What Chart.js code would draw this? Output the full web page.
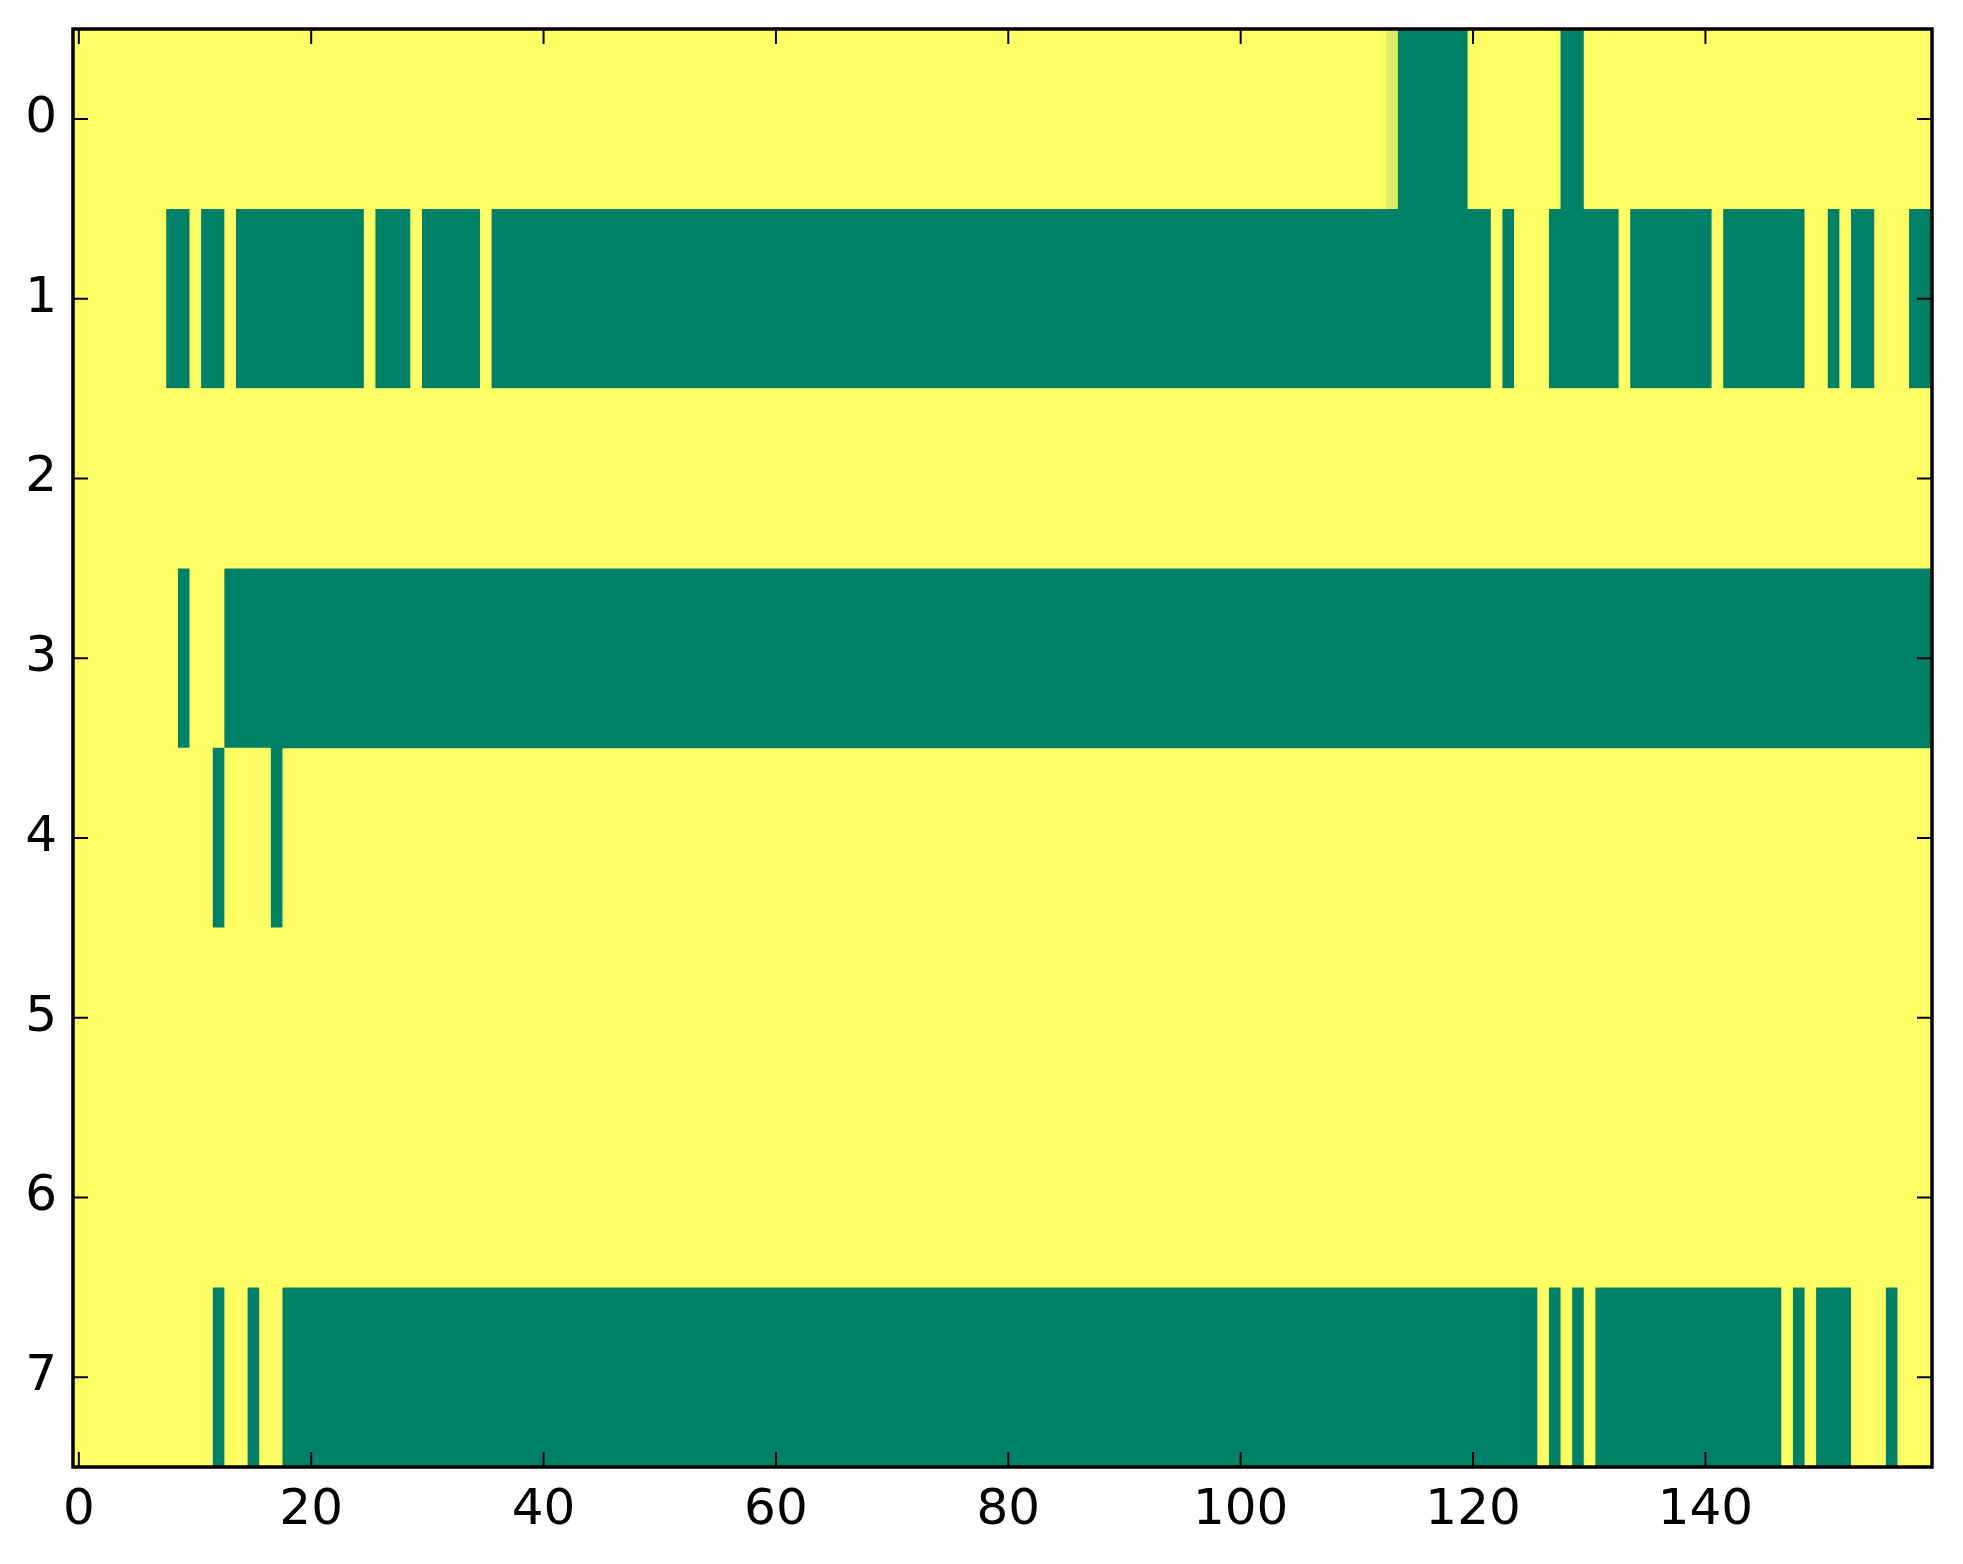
<!DOCTYPE html>
<html>
<head>
<meta charset="utf-8">
<style>
  html, body { margin: 0; padding: 0; background: #ffffff; }
  #heat { display: block; }
</style>
<script src="https://cdn.jsdelivr.net/npm/chart.js@4.4.1/dist/chart.umd.min.js"></script>
</head>
<body>
<canvas id="heat" width="1963" height="1564"></canvas>
<script>
// image is 8 rows x 160 columns, value 1 (yellow) everywhere except the runs below
const rowLabels = ['0', '1', '2', '3', '4', '5', '6', '7'];
const xTicks = [0, 20, 40, 60, 80, 100, 120, 140];
const nCols = 160;

// [first, last] column of each green (value 0) run, per row
const row0Green = [[114, 119], [128, 129]];
const row1Green = [[8, 9], [11, 12], [14, 24], [26, 28], [30, 34], [36, 121], [123, 123],
  [127, 132], [134, 140], [142, 148], [151, 151], [153, 154], [158, 159]];
const row2Green = [];
const row3Green = [[9, 9], [13, 159]];
const row4Green = [[12, 12], [17, 17]];
const row5Green = [];
const row6Green = [];
const row7Green = [[12, 12], [15, 15], [18, 125], [127, 127], [129, 129], [131, 146],
  [148, 148], [150, 152], [156, 156]];

// single cells with an in-between value: [row, col, value]
const partialCells = [[0, 113, 0.86]];

const greenRuns = [row0Green, row1Green, row2Green, row3Green, row4Green, row5Green, row6Green, row7Green];

// build the value matrix
const values = greenRuns.map(runs => {
  const row = new Array(nCols).fill(1);
  runs.forEach(([a, b]) => { for (let c = a; c <= b; c++) row[c] = 0; });
  return row;
});
partialCells.forEach(([r, c, v]) => { values[r][c] = v; });

// matplotlib 'summer' colormap
function summer(v) {
  const r = Math.round(255 * v);
  const g = Math.round(255 * (0.5 + 0.5 * v));
  return 'rgb(' + r + ',' + g + ',102)';
}

// join equal neighbouring cells into one floating bar per run
const rowRuns = values.map(row => {
  const out = [];
  let start = 0;
  for (let c = 1; c <= nCols; c++) {
    if (c === nCols || row[c] !== row[start]) {
      out.push({ from: start - 0.5, to: c - 0.5, v: row[start] });
      start = c;
    }
  }
  return out;
});
const maxRuns = Math.max(...rowRuns.map(r => r.length));

const datasets = [];
for (let k = 0; k < maxRuns; k++) {
  datasets.push({
    data: rowRuns.map(runs => runs[k] ? [runs[k].from, runs[k].to] : null),
    backgroundColor: rowRuns.map(runs => runs[k] ? summer(runs[k].v) : 'rgba(0,0,0,0)'),
    borderWidth: 0,
    borderSkipped: false,
    grouped: false,
    barPercentage: 1,
    categoryPercentage: 1
  });
}

const tickFont = { family: 'DejaVu Sans', size: 50 };

// yellow behind the cells, frame and inward ticks on all four sides
const framePlugin = {
  id: 'frame',
  beforeDatasetsDraw(chart) {
    const { ctx, chartArea: a } = chart;
    ctx.save();
    ctx.fillStyle = summer(1);
    ctx.fillRect(a.left, a.top, a.right - a.left, a.bottom - a.top);
    ctx.restore();
  },
  afterDraw(chart) {
    const { ctx, chartArea: a, scales } = chart;
    const len = 15;
    ctx.save();
    ctx.strokeStyle = '#000000';
    ctx.lineWidth = 2;
    ctx.beginPath();
    xTicks.forEach(v => {
      const px = scales.x.getPixelForValue(v);
      ctx.moveTo(px, a.bottom); ctx.lineTo(px, a.bottom - len);
      ctx.moveTo(px, a.top); ctx.lineTo(px, a.top + len);
    });
    rowLabels.forEach((l, i) => {
      const py = scales.y.getPixelForValue(i);
      ctx.moveTo(a.left, py); ctx.lineTo(a.left + len, py);
      ctx.moveTo(a.right, py); ctx.lineTo(a.right - len, py);
    });
    ctx.stroke();
    ctx.lineWidth = 3.5;
    ctx.strokeRect(a.left, a.top, a.right - a.left, a.bottom - a.top);
    ctx.restore();
  }
};

new Chart(document.getElementById('heat').getContext('2d'), {
  type: 'bar',
  data: { labels: rowLabels, datasets: datasets },
  plugins: [framePlugin],
  options: {
    indexAxis: 'y',
    responsive: false,
    animation: false,
    devicePixelRatio: 1,
    layout: { padding: { top: 29, right: 31, left: 0, bottom: 0 } },
    plugins: { legend: { display: false }, tooltip: { enabled: false } },
    scales: {
      x: {
        type: 'linear',
        min: -0.5,
        max: 159.5,
        grid: { display: false, drawTicks: false },
        border: { display: false },
        ticks: { font: tickFont, color: '#000000', padding: 14, maxRotation: 0 },
        afterBuildTicks: axis => { axis.ticks = xTicks.map(v => ({ value: v })); },
        afterFit: axis => { axis.height = 97; axis.paddingLeft = 0; axis.paddingRight = 0; }
      },
      y: {
        type: 'category',
        offset: true,
        grid: { display: false, drawTicks: false },
        border: { display: false },
        ticks: { font: tickFont, color: '#000000', padding: 16 },
        afterFit: axis => { axis.width = 73; axis.paddingTop = 0; axis.paddingBottom = 0; }
      }
    }
  }
});
</script>
</body>
</html>
